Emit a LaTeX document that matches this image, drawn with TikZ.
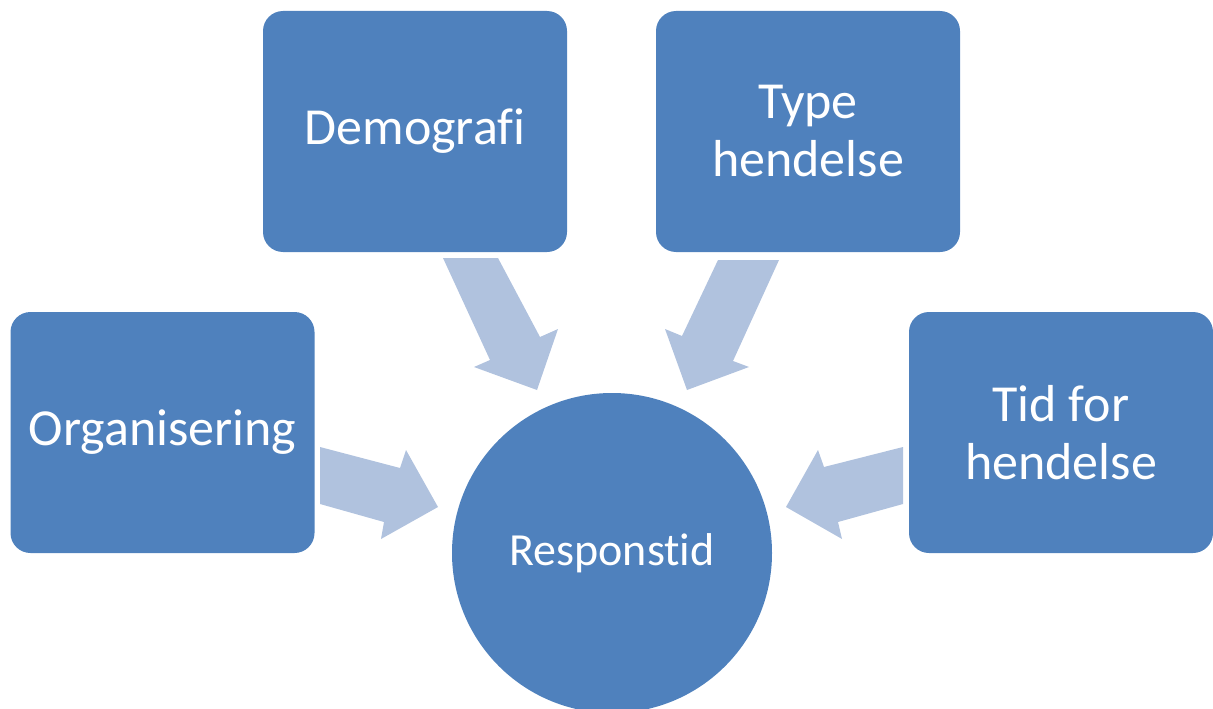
\documentclass[tikz,border=0pt]{standalone}
\usepackage{fontspec}
\setmainfont{Carlito}[Ligatures=NoCommon]
\definecolor{boxblue}{RGB}{79,129,189}
\definecolor{arrowblue}{RGB}{176,194,222}
\begin{document}
\begin{tikzpicture}[x=1pt,y=-1pt,
  factor/.style={fill=boxblue, rounded corners=20pt, minimum width=304pt, minimum height=241pt,
    text=white, align=center, inner sep=0pt, font=\fontsize{52}{58}\selectfont},
  hub/.style={circle, fill=boxblue, minimum size=320pt, inner sep=0pt, text=white,
    font=\fontsize{46}{52}\selectfont},
  blockarrow/.style={fill=arrowblue}]
\useasboundingbox (0,0) rectangle (1213,709);
\begin{scope}
\clip (0,0) rectangle (1213,709);
\node[hub] (resp) at (612,553) {\raisebox{-2pt}{Responstid}};
\end{scope}
\node[factor] (demo) at (415,131.5) {Demografi};
\node[factor] (type) at (808,131.5) {Type\\hendelse};
\node[factor] (org) at (162.5,432.5) {\raisebox{-2pt}{Organisering}};
\node[factor] (tid) at (1061,432.5) {Tid for\\hendelse};
% arrows
\fill[blockarrow] (320,447) -- (400,468) -- (406,450) -- (438,507) -- (381,539) -- (384,522) -- (320,504) -- cycle;
\fill[blockarrow] (443,258) -- (498,258) -- (540,337) -- (558,329) -- (537,390) -- (474,367) -- (490,360) -- cycle;
\fill[blockarrow] (779,260) -- (718,260) -- (682,336) -- (665,329) -- (687,390) -- (749,367) -- (733,361) -- cycle;
\fill[blockarrow] (903,447) -- (824,467) -- (818,450) -- (786,507) -- (842,539) -- (838,522) -- (903,504) -- cycle;
\end{tikzpicture}
\end{document}
